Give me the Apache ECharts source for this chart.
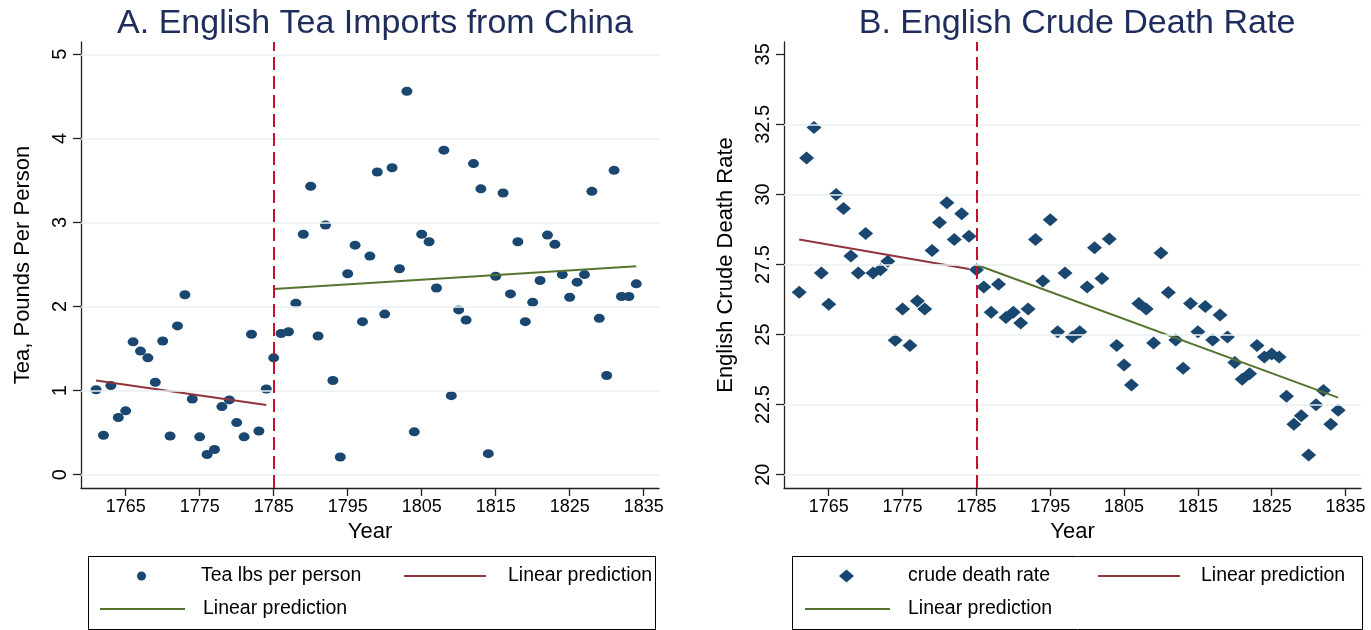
<!DOCTYPE html>
<html>
<head>
<meta charset="utf-8">
<script src="https://cdn.jsdelivr.net/npm/echarts@6/dist/echarts.min.js"></script>
<style>
html,body{margin:0;padding:0;background:#fff;}
#chart{width:1371px;height:630px;}
</style>
</head>
<body>
<div id="chart"></div>
<script>
// ---------- data ----------
var years = [1761,1762,1763,1764,1765,1766,1767,1768,1769,1770,1771,1772,1773,1774,1775,1776,1777,1778,1779,1780,
  1781,1782,1783,1784,1785,1786,1787,1788,1789,1790,1791,1792,1793,1794,1795,1796,1797,1798,1799,1800,
  1801,1802,1803,1804,1805,1806,1807,1808,1809,1810,1811,1812,1813,1814,1815,1816,1817,1818,1819,1820,
  1821,1822,1823,1824,1825,1826,1827,1828,1829,1830,1831,1832,1833,1834];
var teaLbs = [1.01,0.47,1.06,0.68,0.76,1.58,1.47,1.39,1.10,1.59,0.46,1.77,2.14,0.90,0.45,0.24,0.30,0.81,0.89,0.62,
  0.45,1.67,0.52,1.02,1.39,1.68,1.70,2.04,2.86,3.43,1.65,2.97,1.12,0.21,2.39,2.73,1.82,2.60,3.60,1.91,
  3.65,2.45,4.56,0.51,2.86,2.77,2.22,3.86,0.94,1.96,1.84,3.70,3.40,0.25,2.36,3.35,2.15,2.77,1.82,2.05,
  2.31,2.85,2.74,2.38,2.11,2.29,2.38,3.37,1.86,1.18,3.62,2.12,2.12,2.27];
var deathRate = [26.51,31.30,32.39,27.20,26.08,30.00,29.50,27.80,27.20,28.61,27.20,27.31,27.62,24.80,25.91,24.61,26.20,25.91,28.00,29.00,
  29.70,28.39,29.31,28.51,27.31,26.70,25.80,26.80,25.61,25.80,25.41,25.91,28.39,26.91,29.10,25.10,27.20,24.91,25.10,26.70,
  28.10,27.00,28.41,24.61,23.91,23.20,26.11,25.91,24.70,27.91,26.50,24.81,23.80,26.11,25.10,26.00,24.81,25.70,24.91,24.00,
  23.41,23.60,24.61,24.20,24.31,24.20,22.80,21.80,22.10,20.70,22.50,23.00,21.80,22.30];
// linear predictions (end points)
var teaFitPreYears = [1761,1784];   var teaFitPre = [1.12,0.83];
var teaFitPostYears = [1785,1834];  var teaFitPost = [2.21,2.48];
var deathFitPreYears = [1761,1784]; var deathFitPre = [28.39,27.34];
var deathFitPostYears = [1785,1834];var deathFitPost = [27.49,22.75];
var breakYear = 1785;
var xTicks = [1765,1775,1785,1795,1805,1815,1825,1835];
var teaTicks = [0,1,2,3,4,5];
var teaGrid = [0,1,2,3,4,5];
var deathTicks = [20,22.5,25,27.5,30,32.5,35];
var deathGrid = [20,22.5,25,27.5,30,32.5];

// ---------- helpers ----------
function pairs(xs, ys){ return xs.map(function(x,i){ return [x, ys[i]]; }); }
var FONT = 'Liberation Sans, Arial, Helvetica, sans-serif';
var NAVY = '#1a476f', MAROON = '#90353b', GREEN = '#55752f', RED = '#c8102e';
var GRIDC = '#e9f0f3', AXC = '#222';
var labelMap = {
  'tea': 'Tea lbs per person', 'teaPre': 'Linear prediction', 'teaPost': 'Linear prediction',
  'death': 'crude death rate', 'deathPre': 'Linear prediction', 'deathPost': 'Linear prediction'
};
function plain(v){ return String(v); }

function xAxisCfg(idx, min, max){
  return {
    type:'value', gridIndex: idx, min:min, max:max,
    name:'Year', nameLocation:'middle', nameGap:32,
    nameTextStyle:{fontFamily:FONT, fontSize:22, color:'#000'},
    axisLine:{show:true, onZero:false, lineStyle:{color:AXC, width:1.3}},
    axisTick:{show:true, length:8, customValues:xTicks, lineStyle:{color:AXC, width:1.3}},
    axisLabel:{customValues:xTicks, formatter:plain, margin:10, fontFamily:FONT, fontSize:18, color:'#000'},
    splitLine:{show:false}
  };
}
function yAxisCfg(idx, min, max, ticks, name){
  return {
    type:'value', gridIndex: idx, min:min, max:max,
    name:name, nameLocation:'middle', nameGap:47,
    nameTextStyle:{fontFamily:FONT, fontSize:22, color:'#000'},
    axisLine:{show:true, onZero:false, lineStyle:{color:AXC, width:1.3}},
    axisTick:{show:true, length:8, customValues:ticks, lineStyle:{color:AXC, width:1.3}},
    axisLabel:{customValues:ticks, formatter:plain, rotate:90, margin:11, fontFamily:FONT, fontSize:20, color:'#000'},
    splitLine:{show:false}
  };
}
function gridSeries(idx, vals){
  return {
    type:'line', name:'_grid'+idx, xAxisIndex:idx, yAxisIndex:idx, data:[], z:1, silent:true,
    markLine:{silent:true, symbol:['none','none'], label:{show:false},
      lineStyle:{color:GRIDC, width:1.5, type:'solid'},
      data: vals.map(function(v){ return {yAxis:v}; })}
  };
}
function breakSeries(idx){
  return {
    type:'line', name:'_break'+idx, xAxisIndex:idx, yAxisIndex:idx, data:[], z:2, silent:true,
    markLine:{silent:true, symbol:['none','none'], label:{show:false},
      lineStyle:{color:RED, width:2, type:[13,6]},
      data:[{xAxis:breakYear}]}
  };
}
function fitSeries(idx, name, xs, ys, color){
  return {
    type:'line', name:name, xAxisIndex:idx, yAxisIndex:idx, data:pairs(xs, ys),
    showSymbol:false, symbol:'none', color:color, z:4,
    lineStyle:{color:color, width:2}
  };
}
function legendItem(left, top, name, icon, w, h, pad){
  return {
    left:left, top:top, padding:0, selectedMode:false, orient:'horizontal',
    data:[{name:name, icon:icon}], itemWidth:w, itemHeight:h,
    formatter:function(n){ return labelMap[n] || n; },
    textStyle:{fontFamily:FONT, fontSize:19.5, color:'#000', padding:[0,0,0,pad]}
  };
}

var chart = echarts.init(document.getElementById('chart'), null, {renderer:'canvas'});
var option = {
  backgroundColor:'#fff',
  animation:false,
  title:[
    {text:'A. English Tea Imports from China', left:370, top:2, textAlign:'center',
     textStyle:{fontFamily:FONT, fontSize:34, fontWeight:'normal', color:'#1e2d5c'}},
    {text:'B. English Crude Death Rate', left:1072, top:2, textAlign:'center',
     textStyle:{fontFamily:FONT, fontSize:34, fontWeight:'normal', color:'#1e2d5c'}}
  ],
  grid:[
    {left:81, top:42, width:578, height:446, containLabel:false},
    {left:784, top:42, width:577, height:446, containLabel:false}
  ],
  xAxis:[ xAxisCfg(0, 1758.96, 1837.07), xAxisCfg(1, 1758.94, 1837.09) ],
  yAxis:[ yAxisCfg(0, -0.158, 5.146, teaTicks, 'Tea, Pounds Per Person'),
          yAxisCfg(1, 19.525, 35.44, deathTicks, 'English Crude Death Rate') ],
  legend:[
    legendItem(137, 566, 'tea', 'circle', 11, 9, 49),
    legendItem(404, 566, 'teaPre', 'rect', 82, 2, 17),
    legendItem(100, 599, 'teaPost', 'rect', 85, 2, 13),
    legendItem(839, 566, 'death', 'diamond', 15, 13, 49),
    legendItem(1098, 566, 'deathPre', 'rect', 82, 2, 16),
    legendItem(805, 599, 'deathPost', 'rect', 85, 2, 13)
  ],
  graphic:[
    {type:'rect', shape:{x:88.5, y:556.5, width:567, height:73}, style:{fill:'none', stroke:'#000', lineWidth:1}, silent:true},
    {type:'rect', shape:{x:792.5, y:556.5, width:570, height:73}, style:{fill:'none', stroke:'#000', lineWidth:1}, silent:true}
  ],
  series:[
    gridSeries(0, teaGrid),
    gridSeries(1, deathGrid),
    breakSeries(0),
    breakSeries(1),
    {type:'scatter', name:'tea', xAxisIndex:0, yAxisIndex:0, data:pairs(years, teaLbs),
     symbol:'circle', symbolSize:[11,9], color:NAVY, itemStyle:{color:NAVY, opacity:1}, z:3},
    fitSeries(0, 'teaPre', teaFitPreYears, teaFitPre, MAROON),
    fitSeries(0, 'teaPost', teaFitPostYears, teaFitPost, GREEN),
    {type:'scatter', name:'death', xAxisIndex:1, yAxisIndex:1, data:pairs(years, deathRate),
     symbol:'diamond', symbolSize:[15,13], color:NAVY, itemStyle:{color:NAVY, opacity:1}, z:3},
    fitSeries(1, 'deathPre', deathFitPreYears, deathFitPre, MAROON),
    fitSeries(1, 'deathPost', deathFitPostYears, deathFitPost, GREEN)
  ]
};
chart.setOption(option);
</script>
</body>
</html>
